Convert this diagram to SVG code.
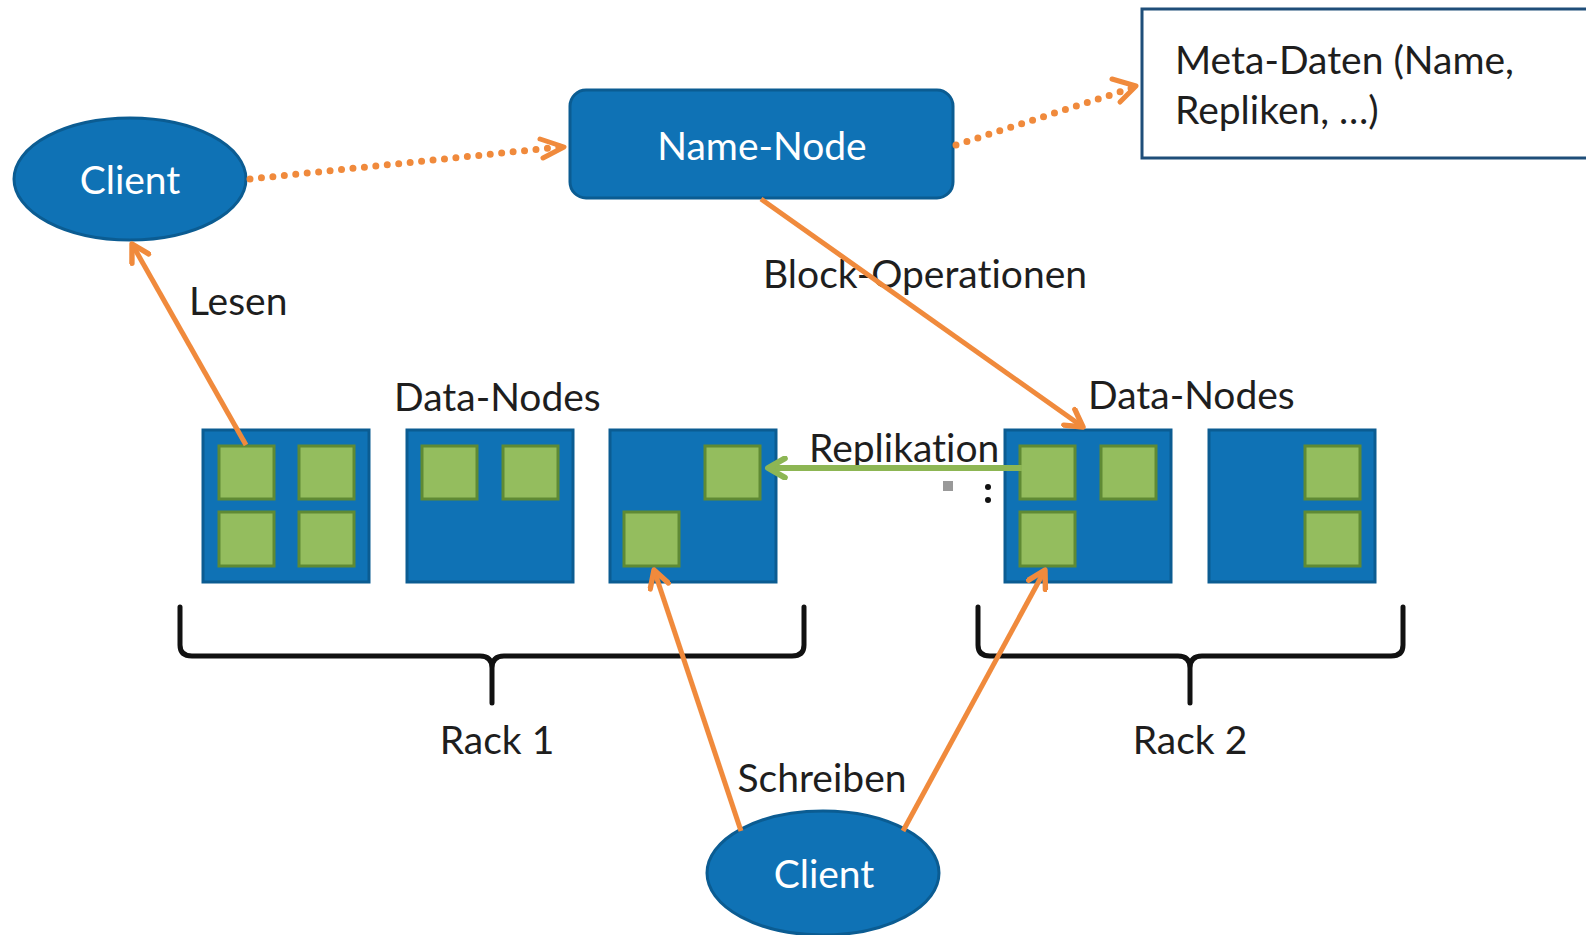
<svg xmlns="http://www.w3.org/2000/svg" width="1586" height="935" viewBox="0 0 1586 935">
<style>
.blue{fill:#0F72B5;stroke:#0B5C92;stroke-width:3}
.dn{fill:#0F72B5;stroke:#0B5C92;stroke-width:3}
.sq{fill:#94BD5E;stroke:#5F8A34;stroke-width:3}
.wt{fill:#FFFFFF;font-family:Lato,"Open Sans",sans-serif;font-variant-ligatures:none}
.lb{fill:#1E1E1E;font-family:Lato,"Open Sans",sans-serif;font-size:39px;font-variant-ligatures:none}
.or{stroke:#F08A3C;stroke-width:5;fill:none}
.dot{stroke:#F08A3C;stroke-width:7;fill:none;stroke-linecap:round;stroke-dasharray:0 11.5}
.gr{stroke:#8DB654;stroke-width:6;fill:none}
.br{stroke:#111;stroke-width:5;fill:none;stroke-linejoin:round;stroke-linecap:round}
</style>
<defs>
<marker id="ao" viewBox="0 0 20 20" refX="17" refY="10" markerWidth="24" markerHeight="24" markerUnits="userSpaceOnUse" orient="auto">
<path d="M3,2 L17,10 L3,18" fill="none" stroke="#F08A3C" stroke-width="4.5" stroke-linecap="round" stroke-linejoin="round"/>
</marker>
<marker id="ag" viewBox="0 0 20 20" refX="17" refY="10" markerWidth="24" markerHeight="24" markerUnits="userSpaceOnUse" orient="auto">
<path d="M3,2 L17,10 L3,18" fill="none" stroke="#8DB654" stroke-width="5" stroke-linecap="round" stroke-linejoin="round"/>
</marker>
</defs>

<g id="client-top">
<ellipse class="blue" cx="130" cy="179" rx="116" ry="61"/>
<text class="wt" x="130" y="194" font-size="39" text-anchor="middle">Client</text>
</g>

<g id="name-node">
<rect class="blue" x="570" y="90" width="383" height="108" rx="16"/>
<text class="wt" x="762" y="160" font-size="39" text-anchor="middle">Name-Node</text>
</g>

<g id="meta-daten">
<rect x="1142" y="9" width="460" height="149" fill="#FFFFFF" stroke="#1F4E79" stroke-width="3"/>
<text class="lb" x="1175" y="74" font-size="40.5">Meta-Daten (Name,</text>
<text class="lb" x="1175" y="124" font-size="40.5">Repliken, …)</text>
</g>

<g id="labels">
<text class="lb" x="189" y="315">Lesen</text>
<text class="lb" x="763" y="288">Block-Operationen</text>
<text class="lb" x="394" y="411">Data-Nodes</text>
<text class="lb" x="1088" y="409">Data-Nodes</text>
<text class="lb" x="809" y="462">Replikation</text>
<text class="lb" x="497" y="754" text-anchor="middle">Rack 1</text>
<text class="lb" x="1190" y="754" text-anchor="middle">Rack 2</text>
<text class="lb" x="822" y="792" text-anchor="middle">Schreiben</text>
</g>

<g id="datanode-1">
<rect class="dn" x="203" y="430" width="166" height="152"/>
<rect class="sq" x="219" y="446" width="55" height="53"/>
<rect class="sq" x="299" y="446" width="55" height="53"/>
<rect class="sq" x="219" y="512" width="55" height="54"/>
<rect class="sq" x="299" y="512" width="55" height="54"/>
</g>
<g id="datanode-2">
<rect class="dn" x="407" y="430" width="166" height="152"/>
<rect class="sq" x="422" y="446" width="55" height="53"/>
<rect class="sq" x="503" y="446" width="55" height="53"/>
</g>
<g id="datanode-3">
<rect class="dn" x="610" y="430" width="166" height="152"/>
<rect class="sq" x="705" y="446" width="55" height="53"/>
<rect class="sq" x="624" y="512" width="55" height="54"/>
</g>
<g id="datanode-4">
<rect class="dn" x="1005" y="430" width="166" height="152"/>
<rect class="sq" x="1020" y="446" width="55" height="53"/>
<rect class="sq" x="1101" y="446" width="55" height="53"/>
<rect class="sq" x="1020" y="512" width="55" height="54"/>
</g>
<g id="datanode-5">
<rect class="dn" x="1209" y="430" width="166" height="152"/>
<rect class="sq" x="1305" y="446" width="55" height="53"/>
<rect class="sq" x="1305" y="512" width="55" height="54"/>
</g>

<g id="marks">
<rect x="943" y="481" width="10" height="10" fill="#999"/>
<circle cx="988" cy="487" r="3" fill="#111"/>
<circle cx="988" cy="500" r="3" fill="#111"/>
</g>

<g id="rack-1">
<path class="br" d="M180,607 L180,645 Q180,656 192,656 L480,656 Q492,656 492,668 L492,703 M492,668 Q492,656 504,656 L792,656 Q804,656 804,645 L804,607"/>
</g>
<g id="rack-2">
<path class="br" d="M978,607 L978,645 Q978,656 990,656 L1178,656 Q1190,656 1190,668 L1190,703 M1190,668 Q1190,656 1202,656 L1391,656 Q1403,656 1403,645 L1403,607"/>
</g>

<g id="client-bottom">
<ellipse class="blue" cx="823" cy="873" rx="116" ry="62"/>
<text class="wt" x="824" y="888" font-size="39" text-anchor="middle">Client</text>
</g>

<g id="connectors">
<path class="dot" d="M250,179 L560,147"/>
<path class="or" d="M540,139 L564,147 L543,158" stroke-linecap="round" stroke-linejoin="round"/>
<path class="dot" d="M956,145 L1132,88"/>
<path class="or" d="M1112,79 L1136,86 L1120,102" stroke-linecap="round" stroke-linejoin="round"/>
<path class="or" d="M761,199 L1083,427" marker-end="url(#ao)"/>
<path class="or" d="M246,445 L132,244" marker-end="url(#ao)"/>
<path class="gr" d="M1022,468 L768,468" marker-end="url(#ag)"/>
<path class="or" d="M741,831 L654,570" marker-end="url(#ao)"/>
<path class="or" d="M903,831 L1045,570" marker-end="url(#ao)"/>
</g>
</svg>
